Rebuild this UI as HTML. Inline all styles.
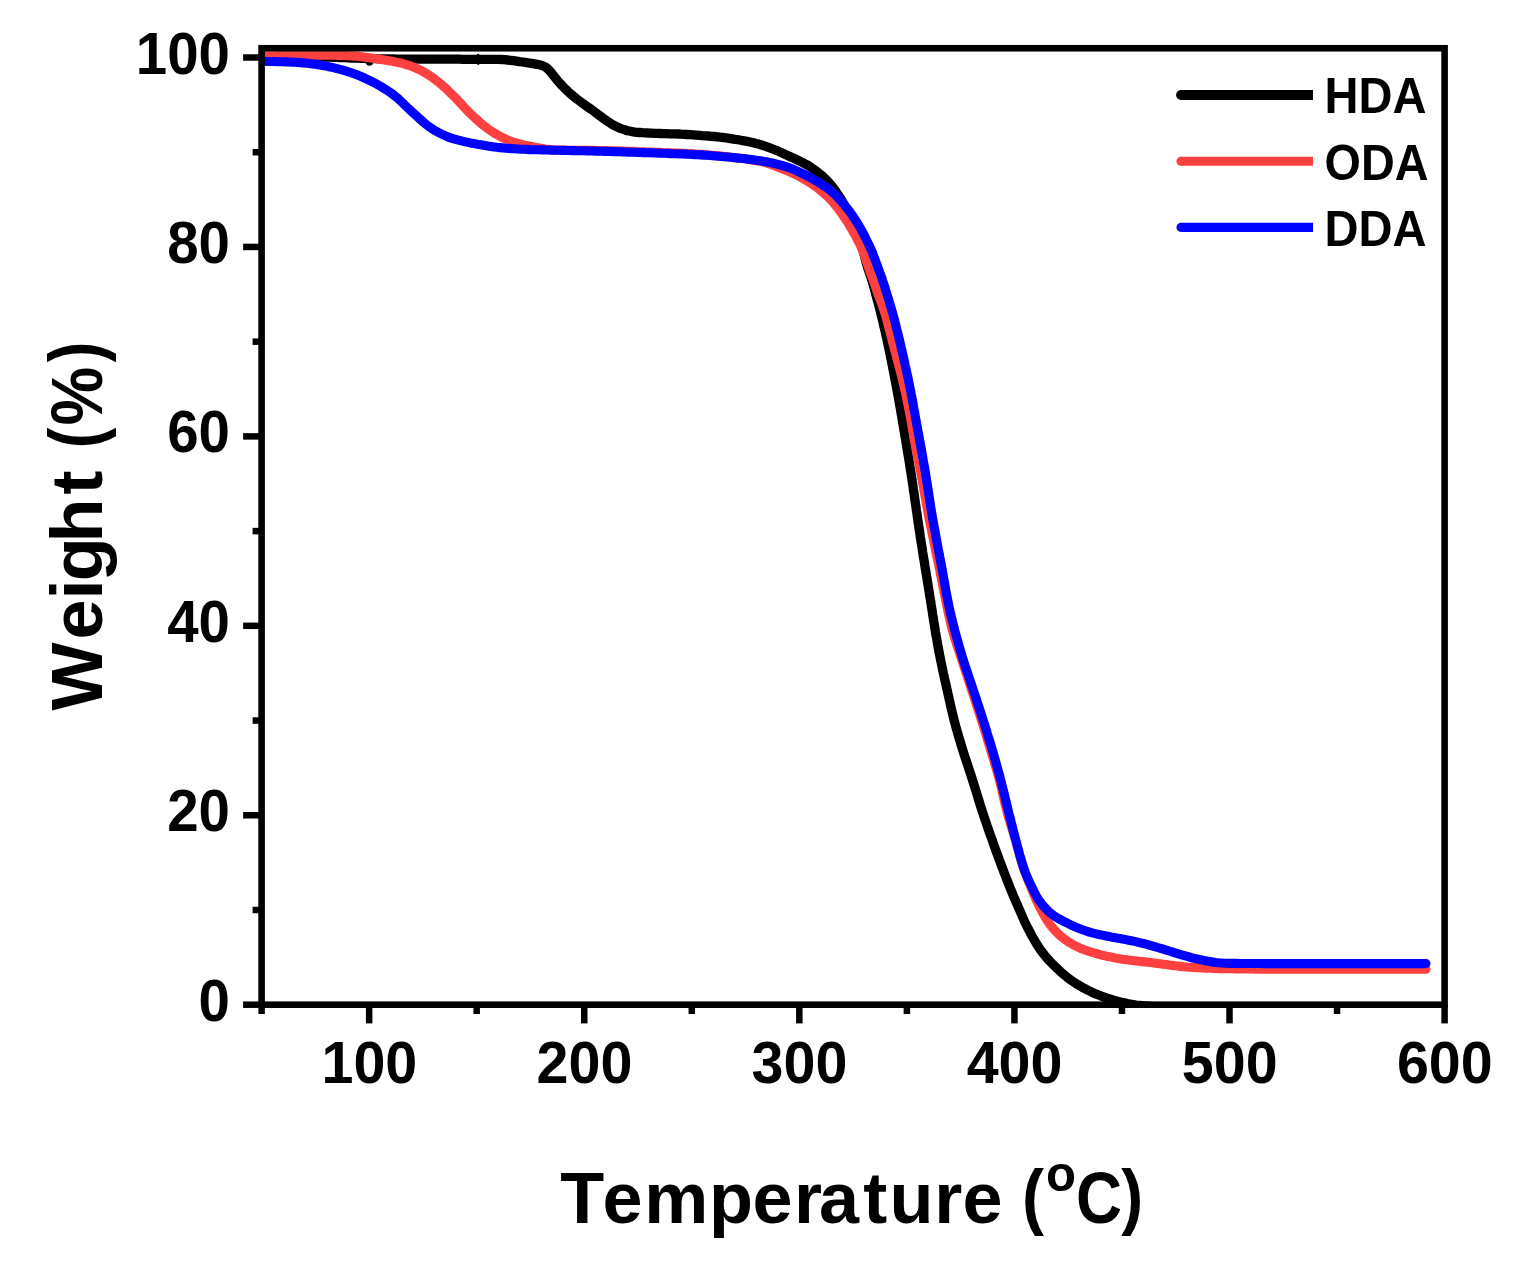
<!DOCTYPE html>
<html><head><meta charset="utf-8"><title>TGA</title>
<style>
html,body{margin:0;padding:0;background:#fff;}
body{width:1525px;height:1271px;overflow:hidden;}
svg{display:block;}
text{font-family:"Liberation Sans",sans-serif;font-weight:bold;fill:#000;}
</style></head><body>
<svg width="1525" height="1271" viewBox="0 0 1525 1271">
<rect width="1525" height="1271" fill="#fff"/>
<defs><clipPath id="c"><rect x="261.6" y="48.2" width="1183.0" height="959.8"/></clipPath></defs>
<g clip-path="url(#c)">
<path d="M261.6 57.0 L265.0 57.0 L267.7 57.0 L270.6 57.0 L273.6 57.0 L276.6 57.0 L279.6 57.0 L282.6 57.0 L285.6 57.0 L288.6 57.0 L291.6 57.0 L294.6 57.0 L297.6 57.1 L300.6 57.1 L303.6 57.1 L306.6 57.1 L309.6 57.1 L312.6 57.1 L315.6 57.1 L318.6 57.1 L321.6 57.2 L324.6 57.2 L327.6 57.2 L330.6 57.2 L333.6 57.3 L336.6 57.3 L339.6 57.5 L342.6 57.6 L345.6 57.7 L348.6 57.8 L351.6 58.0 L354.6 58.1 L357.6 58.2 L360.6 58.3 L363.6 58.4 L366.6 58.5 L369.6 58.6 L372.6 58.6 L375.6 58.7 L378.6 58.8 L381.6 58.8 L384.6 58.9 L387.6 59.0 L390.6 59.0 L393.6 59.0 L396.6 59.1 L399.6 59.1 L402.6 59.1 L405.6 59.1 L408.6 59.1 L411.6 59.1 L414.6 59.1 L417.6 59.2 L420.6 59.2 L423.6 59.2 L426.6 59.2 L429.6 59.2 L432.6 59.2 L435.6 59.2 L438.6 59.2 L441.6 59.2 L444.6 59.2 L447.6 59.2 L450.6 59.2 L453.6 59.2 L456.6 59.2 L459.6 59.2 L462.6 59.3 L465.6 59.3 L468.6 59.3 L471.6 59.3 L474.6 59.3 L477.6 59.3 L480.6 59.3 L483.6 59.3 L486.6 59.3 L489.6 59.3 L492.6 59.3 L495.6 59.4 L498.6 59.4 L501.6 59.5 L504.6 59.7 L507.5 60.0 L510.5 60.3 L513.5 60.7 L516.5 61.1 L519.4 61.6 L522.4 62.0 L525.4 62.4 L528.4 62.9 L531.3 63.3 L534.3 63.8 L537.2 64.3 L540.2 65.0 L543.0 65.9 L545.6 67.2 L547.9 69.0 L550.0 71.1 L551.9 73.5 L553.7 75.8 L555.6 78.2 L557.5 80.5 L559.5 82.8 L561.5 85.0 L563.5 87.2 L565.7 89.3 L567.8 91.4 L570.0 93.4 L572.3 95.3 L574.6 97.3 L577.0 99.1 L579.4 100.9 L581.8 102.7 L584.2 104.4 L586.7 106.2 L589.1 107.9 L591.6 109.6 L594.0 111.4 L596.4 113.2 L598.8 115.0 L601.2 116.8 L603.6 118.6 L606.1 120.3 L608.6 122.0 L611.1 123.7 L613.6 125.2 L616.3 126.6 L619.0 127.8 L621.8 128.9 L624.7 129.8 L627.5 130.7 L630.5 131.3 L633.4 131.9 L636.4 132.3 L639.4 132.5 L642.4 132.7 L645.4 132.8 L648.4 133.0 L651.4 133.1 L654.4 133.3 L657.4 133.4 L660.3 133.5 L663.3 133.6 L666.3 133.7 L669.3 133.8 L672.3 133.8 L675.3 133.9 L678.3 134.0 L681.3 134.2 L684.3 134.3 L687.3 134.5 L690.3 134.7 L693.3 134.9 L696.3 135.1 L699.3 135.3 L702.3 135.6 L705.3 135.8 L708.3 136.0 L711.3 136.3 L714.3 136.5 L717.2 136.8 L720.2 137.2 L723.2 137.5 L726.2 137.9 L729.1 138.3 L732.1 138.8 L735.1 139.3 L738.0 139.7 L741.0 140.3 L744.0 140.8 L746.9 141.4 L749.8 142.0 L752.8 142.6 L755.7 143.4 L758.6 144.1 L761.4 145.0 L764.3 145.9 L767.1 146.9 L769.9 147.9 L772.7 149.0 L775.5 150.1 L778.3 151.2 L781.1 152.4 L783.8 153.7 L786.5 154.9 L789.3 156.2 L792.0 157.4 L794.7 158.7 L797.4 160.0 L800.1 161.4 L802.8 162.7 L805.4 164.1 L808.1 165.5 L810.6 167.1 L813.1 168.8 L815.5 170.5 L817.9 172.4 L820.2 174.3 L822.5 176.2 L824.7 178.3 L826.9 180.4 L828.9 182.5 L830.9 184.8 L832.8 187.1 L834.5 189.5 L836.3 192.0 L838.0 194.5 L839.6 197.0 L841.2 199.5 L842.7 202.1 L844.2 204.7 L845.6 207.4 L847.0 210.1 L848.2 212.8 L849.5 215.5 L850.6 218.3 L851.8 221.0 L852.9 223.8 L854.0 226.6 L855.1 229.4 L856.1 232.2 L857.2 235.0 L858.2 237.9 L859.3 240.7 L860.4 243.5 L861.4 246.3 L862.5 249.1 L863.4 251.9 L864.2 254.8 L864.9 257.7 L865.7 260.6 L866.4 263.5 L867.3 266.4 L868.2 269.3 L869.2 272.1 L870.2 274.9 L871.1 277.8 L872.0 280.6 L872.9 283.5 L873.7 286.4 L874.5 289.3 L875.3 292.2 L876.0 295.1 L876.8 298.0 L877.6 300.9 L878.4 303.8 L879.1 306.7 L879.9 309.6 L880.6 312.5 L881.3 315.4 L882.1 318.3 L882.8 321.2 L883.4 324.2 L884.1 327.1 L884.8 330.0 L885.5 332.9 L886.1 335.8 L886.8 338.8 L887.4 341.7 L888.0 344.6 L888.7 347.6 L889.3 350.5 L889.9 353.5 L890.5 356.4 L891.1 359.3 L891.7 362.3 L892.3 365.2 L892.8 368.2 L893.4 371.1 L894.0 374.1 L894.5 377.0 L895.1 379.9 L895.7 382.9 L896.2 385.8 L896.8 388.8 L897.3 391.7 L897.9 394.7 L898.4 397.6 L898.9 400.6 L899.4 403.5 L900.0 406.5 L900.5 409.5 L901.0 412.4 L901.5 415.4 L902.0 418.3 L902.5 421.3 L903.0 424.2 L903.5 427.2 L904.0 430.2 L904.5 433.1 L905.0 436.1 L905.5 439.0 L906.0 442.0 L906.5 445.0 L907.0 447.9 L907.4 450.9 L907.9 453.8 L908.4 456.8 L908.9 459.8 L909.4 462.7 L909.8 465.7 L910.3 468.7 L910.8 471.6 L911.2 474.6 L911.7 477.5 L912.1 480.5 L912.6 483.5 L913.0 486.4 L913.4 489.4 L913.9 492.4 L914.3 495.4 L914.7 498.3 L915.1 501.3 L915.6 504.3 L916.0 507.2 L916.4 510.2 L916.9 513.2 L917.3 516.1 L917.7 519.1 L918.1 522.1 L918.6 525.0 L919.0 528.0 L919.5 531.0 L919.9 533.9 L920.3 536.9 L920.8 539.9 L921.2 542.8 L921.7 545.8 L922.2 548.8 L922.6 551.7 L923.1 554.7 L923.6 557.7 L924.1 560.6 L924.6 563.6 L925.0 566.5 L925.5 569.5 L926.0 572.5 L926.5 575.4 L927.0 578.4 L927.4 581.4 L927.9 584.3 L928.4 587.3 L928.9 590.2 L929.4 593.2 L929.8 596.2 L930.3 599.1 L930.8 602.1 L931.2 605.0 L931.7 608.0 L932.2 611.0 L932.6 613.9 L933.1 616.9 L933.5 619.9 L934.0 622.8 L934.5 625.8 L935.0 628.8 L935.4 631.7 L935.9 634.7 L936.5 637.6 L937.0 640.6 L937.5 643.5 L938.0 646.5 L938.6 649.4 L939.1 652.4 L939.7 655.3 L940.3 658.3 L940.9 661.2 L941.5 664.2 L942.1 667.1 L942.7 670.0 L943.3 673.0 L944.0 675.9 L944.6 678.8 L945.3 681.8 L946.0 684.7 L946.6 687.6 L947.3 690.5 L947.9 693.5 L948.6 696.4 L949.2 699.3 L949.9 702.3 L950.5 705.2 L951.2 708.1 L951.9 711.0 L952.6 713.9 L953.3 716.9 L954.0 719.8 L954.8 722.7 L955.5 725.6 L956.3 728.5 L957.2 731.3 L958.0 734.2 L958.8 737.1 L959.7 740.0 L960.6 742.9 L961.4 745.7 L962.3 748.6 L963.2 751.5 L964.1 754.3 L965.0 757.2 L966.0 760.0 L966.9 762.9 L967.9 765.7 L968.8 768.6 L969.7 771.4 L970.7 774.3 L971.6 777.1 L972.5 780.0 L973.4 782.8 L974.3 785.7 L975.2 788.6 L976.1 791.4 L977.0 794.3 L977.8 797.2 L978.7 800.0 L979.6 802.9 L980.5 805.8 L981.4 808.6 L982.3 811.5 L983.3 814.3 L984.2 817.2 L985.2 820.0 L986.2 822.9 L987.1 825.7 L988.1 828.5 L989.1 831.4 L990.1 834.2 L991.1 837.0 L992.1 839.8 L993.1 842.7 L994.1 845.5 L995.1 848.3 L996.1 851.2 L997.2 854.0 L998.2 856.8 L999.2 859.6 L1000.3 862.4 L1001.3 865.2 L1002.4 868.0 L1003.4 870.8 L1004.5 873.6 L1005.6 876.4 L1006.7 879.2 L1007.8 882.0 L1008.9 884.8 L1010.0 887.6 L1011.1 890.4 L1012.3 893.2 L1013.4 895.9 L1014.6 898.7 L1015.8 901.4 L1017.0 904.2 L1018.2 906.9 L1019.4 909.7 L1020.6 912.4 L1021.8 915.2 L1023.0 917.9 L1024.2 920.7 L1025.5 923.4 L1026.8 926.1 L1028.2 928.7 L1029.6 931.4 L1031.0 934.1 L1032.4 936.7 L1033.9 939.3 L1035.4 941.9 L1037.0 944.5 L1038.6 947.0 L1040.2 949.5 L1042.0 951.9 L1043.8 954.3 L1045.7 956.6 L1047.7 958.9 L1049.7 961.1 L1051.8 963.3 L1053.9 965.4 L1056.1 967.5 L1058.3 969.5 L1060.5 971.6 L1062.7 973.6 L1065.0 975.5 L1067.3 977.4 L1069.7 979.2 L1072.2 981.0 L1074.6 982.6 L1077.2 984.3 L1079.7 985.8 L1082.3 987.3 L1085.0 988.7 L1087.6 990.1 L1090.3 991.4 L1093.1 992.7 L1095.8 993.9 L1098.6 995.0 L1101.4 996.1 L1104.2 997.1 L1107.0 998.1 L1109.9 999.0 L1112.8 999.9 L1115.6 1000.7 L1118.5 1001.5 L1121.5 1002.2 L1124.4 1002.8 L1127.3 1003.5 L1130.3 1004.1 L1133.2 1004.6 L1136.2 1005.1 L1139.1 1005.4 L1142.1 1005.7 L1145.1 1005.9 L1148.1 1006.2 L1151.1 1006.4 L1154.0 1006.6 L1156.7 1006.8 L1160.0 1007.0 L1160.0 1007.0" fill="none" stroke="#000" stroke-width="9.3" stroke-linecap="round" stroke-linejoin="round"/>
<ellipse cx="369.5" cy="62.4" rx="3.4" ry="3.3" fill="#000"/><ellipse cx="478.2" cy="59.3" rx="2.6" ry="5.6" fill="#000"/>
<path d="M261.6 56.0 L265.4 55.9 L267.9 55.8 L270.7 55.7 L273.6 55.7 L276.6 55.6 L279.6 55.5 L282.6 55.5 L285.6 55.4 L288.6 55.4 L291.6 55.3 L294.6 55.3 L297.6 55.3 L300.6 55.3 L303.6 55.3 L306.6 55.2 L309.6 55.2 L312.6 55.2 L315.6 55.2 L318.6 55.2 L321.6 55.2 L324.6 55.2 L327.6 55.2 L330.6 55.2 L333.6 55.3 L336.6 55.3 L339.6 55.4 L342.6 55.5 L345.6 55.6 L348.6 55.7 L351.6 55.9 L354.6 56.1 L357.6 56.3 L360.5 56.6 L363.5 57.0 L366.5 57.4 L369.5 57.8 L372.4 58.2 L375.4 58.6 L378.4 59.0 L381.4 59.5 L384.3 59.9 L387.3 60.4 L390.2 60.9 L393.2 61.5 L396.1 62.1 L399.1 62.7 L402.0 63.4 L404.9 64.2 L407.8 65.1 L410.6 66.0 L413.4 67.0 L416.2 68.2 L418.9 69.4 L421.6 70.8 L424.2 72.3 L426.8 73.8 L429.3 75.4 L431.8 77.1 L434.2 78.8 L436.6 80.6 L439.0 82.5 L441.3 84.4 L443.5 86.4 L445.8 88.4 L448.0 90.5 L450.1 92.6 L452.3 94.7 L454.4 96.8 L456.5 98.9 L458.5 101.1 L460.6 103.3 L462.6 105.6 L464.7 107.8 L466.7 109.9 L468.8 112.1 L471.0 114.2 L473.1 116.2 L475.3 118.3 L477.6 120.3 L479.8 122.3 L482.1 124.3 L484.5 126.1 L486.8 128.0 L489.3 129.7 L491.7 131.4 L494.3 133.0 L496.8 134.5 L499.5 136.0 L502.1 137.4 L504.8 138.7 L507.6 139.9 L510.4 141.0 L513.2 142.0 L516.0 142.9 L518.9 143.7 L521.8 144.4 L524.8 145.1 L527.7 145.7 L530.7 146.3 L533.6 146.9 L536.6 147.5 L539.5 148.0 L542.5 148.5 L545.5 149.0 L548.4 149.4 L551.4 149.7 L554.4 149.9 L557.4 150.0 L560.4 150.1 L563.4 150.1 L566.3 150.2 L569.3 150.2 L572.3 150.2 L575.3 150.3 L578.3 150.3 L581.4 150.3 L584.4 150.3 L587.4 150.4 L590.4 150.4 L593.4 150.4 L596.4 150.5 L599.4 150.5 L602.4 150.6 L605.4 150.6 L608.4 150.7 L611.4 150.8 L614.4 150.9 L617.4 150.9 L620.4 151.0 L623.4 151.1 L626.4 151.2 L629.4 151.3 L632.4 151.4 L635.4 151.5 L638.4 151.7 L641.4 151.8 L644.4 151.9 L647.4 152.0 L650.4 152.1 L653.3 152.2 L656.3 152.3 L659.3 152.4 L662.3 152.6 L665.3 152.7 L668.3 152.8 L671.3 152.9 L674.3 153.0 L677.3 153.1 L680.3 153.3 L683.3 153.4 L686.3 153.5 L689.3 153.7 L692.3 153.8 L695.3 154.0 L698.3 154.2 L701.3 154.4 L704.3 154.6 L707.3 154.8 L710.3 155.1 L713.3 155.3 L716.3 155.6 L719.2 155.9 L722.2 156.2 L725.2 156.5 L728.2 156.8 L731.2 157.2 L734.2 157.5 L737.1 157.9 L740.1 158.2 L743.1 158.6 L746.1 159.0 L749.1 159.4 L752.0 159.9 L755.0 160.4 L757.9 160.9 L760.9 161.5 L763.8 162.2 L766.6 163.0 L769.5 164.0 L772.3 165.0 L775.1 166.0 L777.9 167.1 L780.7 168.2 L783.5 169.3 L786.3 170.4 L789.1 171.6 L791.8 172.8 L794.5 174.1 L797.2 175.4 L799.9 176.8 L802.5 178.2 L805.1 179.7 L807.7 181.3 L810.2 182.9 L812.7 184.5 L815.1 186.3 L817.6 188.0 L819.9 189.9 L822.2 191.8 L824.5 193.7 L826.8 195.7 L828.9 197.8 L831.0 200.0 L833.0 202.2 L834.9 204.5 L836.8 206.8 L838.6 209.2 L840.4 211.7 L842.1 214.1 L843.8 216.5 L845.5 219.0 L847.1 221.6 L848.7 224.1 L850.2 226.7 L851.7 229.3 L853.2 231.9 L854.7 234.5 L856.1 237.2 L857.5 239.8 L858.9 242.5 L860.3 245.1 L861.5 247.9 L862.7 250.6 L863.8 253.4 L864.7 256.2 L865.7 259.1 L866.6 261.9 L867.6 264.8 L868.6 267.6 L869.6 270.4 L870.6 273.2 L871.7 276.1 L872.7 278.9 L873.8 281.7 L874.8 284.5 L875.7 287.3 L876.7 290.2 L877.7 293.0 L878.8 295.8 L879.8 298.6 L880.9 301.5 L881.9 304.3 L882.9 307.1 L883.9 309.9 L884.8 312.8 L885.6 315.6 L886.5 318.5 L887.3 321.4 L888.0 324.3 L888.8 327.2 L889.5 330.1 L890.3 333.0 L891.0 336.0 L891.8 338.9 L892.5 341.8 L893.3 344.7 L894.1 347.6 L894.8 350.5 L895.6 353.4 L896.4 356.3 L897.2 359.2 L897.9 362.1 L898.7 365.0 L899.5 367.9 L900.2 370.8 L901.0 373.7 L901.7 376.6 L902.4 379.5 L903.1 382.4 L903.8 385.3 L904.5 388.3 L905.1 391.2 L905.8 394.1 L906.4 397.0 L907.0 400.0 L907.6 402.9 L908.2 405.9 L908.8 408.8 L909.3 411.8 L909.9 414.7 L910.5 417.7 L911.0 420.6 L911.5 423.6 L912.1 426.5 L912.6 429.5 L913.1 432.4 L913.6 435.4 L914.1 438.3 L914.6 441.3 L915.2 444.2 L915.7 447.2 L916.2 450.1 L916.8 453.1 L917.4 456.0 L918.0 459.0 L918.6 461.9 L919.2 464.9 L919.8 467.8 L920.4 470.7 L921.0 473.7 L921.5 476.6 L922.1 479.6 L922.6 482.5 L923.2 485.5 L923.7 488.4 L924.2 491.4 L924.7 494.3 L925.2 497.3 L925.8 500.2 L926.3 503.2 L926.8 506.1 L927.4 509.1 L927.9 512.0 L928.5 515.0 L929.0 517.9 L929.6 520.9 L930.2 523.8 L930.8 526.8 L931.4 529.7 L932.0 532.6 L932.6 535.6 L933.2 538.5 L933.8 541.5 L934.4 544.4 L935.0 547.3 L935.6 550.3 L936.2 553.2 L936.8 556.2 L937.5 559.1 L938.1 562.0 L938.7 565.0 L939.3 567.9 L939.9 570.8 L940.4 573.8 L941.0 576.7 L941.6 579.7 L942.2 582.6 L942.7 585.6 L943.3 588.5 L943.9 591.5 L944.5 594.4 L945.1 597.3 L945.7 600.3 L946.3 603.2 L946.9 606.2 L947.5 609.1 L948.1 612.0 L948.8 615.0 L949.4 617.9 L950.1 620.8 L950.8 623.7 L951.5 626.6 L952.2 629.5 L953.0 632.4 L953.9 635.3 L954.7 638.2 L955.6 641.0 L956.5 643.9 L957.5 646.8 L958.4 649.6 L959.4 652.4 L960.3 655.3 L961.3 658.1 L962.2 661.0 L963.1 663.8 L964.1 666.7 L965.0 669.6 L965.9 672.4 L966.9 675.3 L967.8 678.1 L968.7 681.0 L969.7 683.8 L970.6 686.7 L971.5 689.5 L972.5 692.4 L973.4 695.2 L974.3 698.1 L975.3 700.9 L976.2 703.8 L977.1 706.6 L978.0 709.5 L979.0 712.3 L979.9 715.2 L980.8 718.1 L981.7 720.9 L982.6 723.8 L983.5 726.6 L984.4 729.5 L985.2 732.4 L986.1 735.2 L987.0 738.1 L987.9 741.0 L988.7 743.9 L989.6 746.7 L990.5 749.6 L991.4 752.5 L992.2 755.3 L993.1 758.2 L994.0 761.1 L994.8 764.0 L995.7 766.8 L996.5 769.7 L997.4 772.6 L998.2 775.5 L999.0 778.4 L999.7 781.3 L1000.5 784.2 L1001.2 787.1 L1001.9 790.0 L1002.5 792.9 L1003.2 795.9 L1003.9 798.8 L1004.5 801.7 L1005.2 804.6 L1006.0 807.5 L1006.7 810.4 L1007.5 813.3 L1008.3 816.2 L1009.1 819.1 L1010.0 822.0 L1010.9 824.9 L1011.7 827.7 L1012.6 830.6 L1013.5 833.5 L1014.3 836.3 L1015.2 839.2 L1016.0 842.1 L1016.8 845.0 L1017.6 847.9 L1018.4 850.8 L1019.2 853.7 L1020.0 856.6 L1020.8 859.5 L1021.6 862.4 L1022.5 865.2 L1023.4 868.1 L1024.4 870.9 L1025.5 873.7 L1026.6 876.5 L1027.7 879.3 L1028.8 882.0 L1030.0 884.8 L1031.1 887.6 L1032.3 890.4 L1033.4 893.2 L1034.5 895.9 L1035.7 898.7 L1036.9 901.4 L1038.2 904.1 L1039.5 906.8 L1040.9 909.5 L1042.3 912.2 L1043.8 914.8 L1045.3 917.4 L1046.9 920.0 L1048.6 922.5 L1050.3 924.9 L1052.1 927.3 L1054.0 929.5 L1056.1 931.7 L1058.2 933.8 L1060.4 935.9 L1062.8 937.8 L1065.1 939.6 L1067.6 941.3 L1070.1 942.9 L1072.7 944.4 L1075.3 945.8 L1078.1 947.1 L1080.8 948.4 L1083.6 949.5 L1086.4 950.5 L1089.2 951.5 L1092.1 952.4 L1095.0 953.2 L1097.9 954.0 L1100.8 954.8 L1103.7 955.5 L1106.6 956.2 L1109.6 956.8 L1112.5 957.4 L1115.5 958.0 L1118.4 958.5 L1121.4 959.0 L1124.3 959.4 L1127.3 959.8 L1130.3 960.2 L1133.3 960.6 L1136.2 960.9 L1139.2 961.3 L1142.2 961.6 L1145.2 961.9 L1148.2 962.2 L1151.1 962.6 L1154.1 963.0 L1157.1 963.4 L1160.1 963.8 L1163.0 964.2 L1166.0 964.6 L1169.0 965.0 L1172.0 965.4 L1174.9 965.7 L1177.9 966.1 L1180.9 966.4 L1183.9 966.7 L1186.9 967.0 L1189.9 967.2 L1192.9 967.4 L1195.8 967.6 L1198.8 967.8 L1201.8 968.0 L1204.8 968.1 L1207.8 968.2 L1210.8 968.3 L1213.8 968.4 L1216.8 968.5 L1219.8 968.6 L1222.8 968.7 L1225.8 968.7 L1228.8 968.8 L1231.8 968.8 L1234.8 968.9 L1237.8 968.9 L1240.8 968.9 L1243.8 969.0 L1246.8 969.0 L1249.8 969.0 L1252.8 969.0 L1255.8 969.1 L1258.8 969.1 L1261.8 969.1 L1264.8 969.2 L1267.8 969.2 L1270.8 969.2 L1273.8 969.2 L1276.8 969.2 L1279.8 969.2 L1282.8 969.3 L1285.8 969.3 L1288.8 969.3 L1291.8 969.3 L1294.8 969.3 L1297.8 969.3 L1300.8 969.3 L1303.8 969.3 L1306.8 969.3 L1309.8 969.3 L1312.8 969.3 L1315.8 969.3 L1318.8 969.3 L1321.8 969.3 L1324.8 969.3 L1327.8 969.3 L1330.8 969.3 L1333.8 969.3 L1336.8 969.3 L1339.8 969.3 L1342.8 969.3 L1345.8 969.3 L1348.8 969.3 L1351.8 969.3 L1354.8 969.3 L1357.8 969.3 L1360.8 969.3 L1363.8 969.3 L1366.8 969.3 L1369.8 969.3 L1372.8 969.3 L1375.8 969.3 L1378.8 969.3 L1381.8 969.3 L1384.8 969.3 L1387.8 969.3 L1390.8 969.3 L1393.8 969.3 L1396.8 969.3 L1399.8 969.3 L1402.8 969.3 L1405.8 969.3 L1408.8 969.3 L1411.8 969.3 L1414.8 969.3 L1417.7 969.3 L1420.4 969.3 L1422.7 969.3 L1426.0 969.3 L1426.0 969.3" fill="none" stroke="#ff4040" stroke-width="9.1" stroke-linecap="round" stroke-linejoin="round"/>
<path d="M261.6 61.4 L265.4 61.4 L267.9 61.5 L270.7 61.5 L273.6 61.5 L276.6 61.6 L279.6 61.7 L282.6 61.8 L285.6 61.9 L288.6 62.0 L291.6 62.1 L294.6 62.3 L297.6 62.4 L300.6 62.6 L303.6 62.9 L306.6 63.2 L309.5 63.5 L312.5 63.9 L315.5 64.3 L318.4 64.7 L321.4 65.2 L324.4 65.8 L327.3 66.3 L330.2 67.0 L333.2 67.6 L336.1 68.3 L339.0 69.1 L341.9 69.8 L344.8 70.7 L347.6 71.6 L350.5 72.5 L353.3 73.5 L356.1 74.5 L358.9 75.6 L361.7 76.8 L364.4 78.0 L367.2 79.3 L369.9 80.6 L372.5 81.9 L375.2 83.3 L377.8 84.8 L380.5 86.2 L383.0 87.8 L385.6 89.4 L388.1 91.0 L390.6 92.7 L393.0 94.5 L395.3 96.3 L397.6 98.2 L399.8 100.2 L402.0 102.3 L404.2 104.4 L406.3 106.5 L408.5 108.5 L410.7 110.6 L412.9 112.7 L415.1 114.7 L417.4 116.7 L419.6 118.8 L421.9 120.8 L424.1 122.8 L426.5 124.7 L428.8 126.5 L431.3 128.2 L433.8 129.8 L436.3 131.3 L439.0 132.7 L441.6 134.1 L444.4 135.4 L447.1 136.6 L449.9 137.6 L452.8 138.6 L455.6 139.4 L458.5 140.2 L461.4 140.9 L464.4 141.6 L467.3 142.2 L470.2 142.9 L473.2 143.4 L476.1 144.0 L479.1 144.6 L482.0 145.1 L485.0 145.6 L488.0 146.1 L490.9 146.5 L493.9 146.9 L496.9 147.3 L499.9 147.6 L502.9 147.9 L505.8 148.2 L508.8 148.4 L511.8 148.6 L514.8 148.8 L517.8 149.0 L520.8 149.2 L523.8 149.3 L526.8 149.4 L529.8 149.6 L532.8 149.7 L535.8 149.7 L538.8 149.8 L541.8 149.9 L544.8 150.0 L547.8 150.0 L550.8 150.1 L553.8 150.2 L556.8 150.2 L559.8 150.3 L562.8 150.4 L565.8 150.4 L568.8 150.5 L571.8 150.6 L574.8 150.6 L577.8 150.7 L580.8 150.8 L583.8 150.8 L586.8 150.9 L589.8 151.0 L592.8 151.0 L595.8 151.1 L598.8 151.2 L601.8 151.3 L604.8 151.4 L607.8 151.4 L610.8 151.5 L613.8 151.6 L616.8 151.7 L619.8 151.8 L622.8 151.9 L625.8 152.0 L628.8 152.1 L631.8 152.2 L634.8 152.3 L637.8 152.4 L640.8 152.5 L643.8 152.6 L646.8 152.7 L649.8 152.8 L652.8 152.9 L655.7 153.0 L658.7 153.1 L661.7 153.2 L664.7 153.3 L667.7 153.4 L670.7 153.6 L673.7 153.7 L676.7 153.8 L679.7 153.9 L682.7 154.0 L685.7 154.1 L688.7 154.3 L691.7 154.4 L694.7 154.6 L697.7 154.7 L700.7 154.9 L703.7 155.1 L706.7 155.3 L709.7 155.5 L712.7 155.7 L715.7 156.0 L718.7 156.2 L721.7 156.5 L724.6 156.7 L727.6 157.0 L730.6 157.3 L733.6 157.6 L736.6 157.9 L739.6 158.2 L742.6 158.5 L745.5 158.8 L748.5 159.2 L751.5 159.6 L754.5 160.0 L757.4 160.4 L760.4 160.8 L763.4 161.3 L766.3 161.8 L769.3 162.4 L772.2 163.0 L775.1 163.7 L778.0 164.4 L780.9 165.2 L783.8 166.0 L786.7 166.9 L789.5 167.9 L792.3 168.9 L795.1 170.1 L797.8 171.3 L800.5 172.6 L803.2 173.9 L805.9 175.2 L808.6 176.6 L811.2 178.1 L813.8 179.5 L816.4 181.1 L819.0 182.6 L821.5 184.2 L824.0 185.9 L826.5 187.6 L828.9 189.3 L831.2 191.2 L833.5 193.2 L835.7 195.2 L837.7 197.4 L839.8 199.6 L841.8 201.8 L843.7 204.1 L845.6 206.4 L847.5 208.8 L849.3 211.1 L851.1 213.6 L852.8 216.0 L854.4 218.5 L856.1 221.1 L857.7 223.6 L859.2 226.2 L860.7 228.8 L862.2 231.4 L863.6 234.0 L865.0 236.7 L866.3 239.4 L867.6 242.1 L868.9 244.8 L870.2 247.5 L871.4 250.2 L872.6 253.0 L873.6 255.8 L874.7 258.6 L875.7 261.4 L876.8 264.2 L877.8 267.1 L878.8 269.9 L879.9 272.7 L880.9 275.5 L881.9 278.3 L882.8 281.2 L883.8 284.0 L884.7 286.9 L885.6 289.8 L886.5 292.6 L887.4 295.5 L888.2 298.4 L889.1 301.2 L890.0 304.1 L890.8 307.0 L891.7 309.9 L892.5 312.7 L893.3 315.6 L894.1 318.5 L894.8 321.4 L895.6 324.3 L896.3 327.2 L897.0 330.2 L897.8 333.1 L898.5 336.0 L899.2 338.9 L899.9 341.8 L900.6 344.7 L901.2 347.7 L901.9 350.6 L902.6 353.5 L903.3 356.4 L903.9 359.4 L904.6 362.3 L905.2 365.2 L905.9 368.1 L906.5 371.1 L907.1 374.0 L907.8 376.9 L908.4 379.9 L909.0 382.8 L909.6 385.8 L910.2 388.7 L910.8 391.6 L911.3 394.6 L911.9 397.5 L912.4 400.5 L913.0 403.4 L913.5 406.4 L914.0 409.3 L914.6 412.3 L915.1 415.2 L915.6 418.2 L916.2 421.1 L916.7 424.1 L917.3 427.0 L917.8 430.0 L918.3 432.9 L918.9 435.9 L919.4 438.9 L920.0 441.8 L920.5 444.8 L921.0 447.7 L921.6 450.7 L922.1 453.6 L922.6 456.6 L923.1 459.5 L923.6 462.5 L924.2 465.4 L924.7 468.4 L925.2 471.3 L925.7 474.3 L926.1 477.3 L926.6 480.2 L927.1 483.2 L927.6 486.2 L928.0 489.1 L928.5 492.1 L928.9 495.1 L929.3 498.0 L929.8 501.0 L930.3 504.0 L930.7 506.9 L931.2 509.9 L931.7 512.8 L932.2 515.8 L932.7 518.7 L933.2 521.7 L933.8 524.7 L934.3 527.6 L934.9 530.6 L935.4 533.5 L935.9 536.5 L936.5 539.4 L937.0 542.4 L937.6 545.3 L938.1 548.3 L938.7 551.2 L939.3 554.1 L939.8 557.1 L940.4 560.0 L940.9 563.0 L941.5 565.9 L942.0 568.9 L942.6 571.8 L943.1 574.8 L943.6 577.8 L944.1 580.7 L944.7 583.7 L945.2 586.6 L945.7 589.6 L946.2 592.5 L946.8 595.5 L947.4 598.4 L948.0 601.4 L948.6 604.3 L949.2 607.2 L949.9 610.2 L950.5 613.1 L951.2 616.0 L951.9 618.9 L952.6 621.8 L953.3 624.7 L954.1 627.7 L954.8 630.6 L955.6 633.5 L956.4 636.4 L957.2 639.2 L958.0 642.1 L958.8 645.0 L959.6 647.9 L960.5 650.8 L961.4 653.6 L962.2 656.5 L963.1 659.4 L964.0 662.2 L964.9 665.1 L965.9 668.0 L966.8 670.8 L967.8 673.6 L968.7 676.5 L969.7 679.3 L970.7 682.2 L971.6 685.0 L972.6 687.9 L973.5 690.7 L974.5 693.5 L975.4 696.4 L976.4 699.2 L977.3 702.1 L978.2 704.9 L979.2 707.8 L980.1 710.7 L981.0 713.5 L981.9 716.4 L982.8 719.2 L983.8 722.1 L984.7 724.9 L985.6 727.8 L986.5 730.7 L987.3 733.5 L988.2 736.4 L989.1 739.3 L990.0 742.1 L990.9 745.0 L991.7 747.9 L992.6 750.8 L993.4 753.6 L994.2 756.5 L995.1 759.4 L995.9 762.3 L996.7 765.2 L997.5 768.1 L998.3 771.0 L999.1 773.8 L999.9 776.7 L1000.6 779.6 L1001.4 782.6 L1002.1 785.5 L1002.8 788.4 L1003.6 791.3 L1004.3 794.2 L1005.0 797.1 L1005.7 800.0 L1006.4 802.9 L1007.1 805.9 L1007.8 808.8 L1008.5 811.7 L1009.2 814.6 L1010.0 817.5 L1010.7 820.4 L1011.4 823.3 L1012.2 826.2 L1012.9 829.1 L1013.7 832.1 L1014.4 835.0 L1015.2 837.9 L1016.0 840.8 L1016.7 843.7 L1017.5 846.6 L1018.3 849.5 L1019.1 852.4 L1019.8 855.3 L1020.7 858.2 L1021.5 861.0 L1022.4 863.9 L1023.3 866.7 L1024.3 869.6 L1025.3 872.4 L1026.5 875.2 L1027.6 877.9 L1028.8 880.7 L1030.1 883.4 L1031.4 886.1 L1032.7 888.8 L1034.0 891.5 L1035.4 894.2 L1036.8 896.8 L1038.4 899.4 L1040.1 901.8 L1041.9 904.2 L1043.8 906.5 L1045.9 908.7 L1048.0 910.8 L1050.2 912.8 L1052.5 914.7 L1054.9 916.4 L1057.4 918.0 L1060.1 919.4 L1062.7 920.8 L1065.4 922.1 L1068.1 923.5 L1070.8 924.8 L1073.6 926.1 L1076.3 927.3 L1079.1 928.5 L1081.8 929.5 L1084.7 930.5 L1087.5 931.5 L1090.4 932.3 L1093.3 933.1 L1096.2 933.8 L1099.1 934.5 L1102.1 935.1 L1105.0 935.7 L1107.9 936.3 L1110.9 936.9 L1113.8 937.4 L1116.8 938.0 L1119.7 938.5 L1122.7 939.0 L1125.6 939.6 L1128.6 940.2 L1131.5 940.8 L1134.5 941.4 L1137.4 942.1 L1140.3 942.8 L1143.2 943.5 L1146.1 944.2 L1149.0 945.0 L1151.9 945.8 L1154.8 946.6 L1157.7 947.5 L1160.5 948.3 L1163.4 949.2 L1166.3 950.1 L1169.1 951.0 L1172.0 951.9 L1174.9 952.8 L1177.7 953.7 L1180.6 954.6 L1183.5 955.4 L1186.4 956.2 L1189.3 957.0 L1192.2 957.8 L1195.1 958.5 L1198.0 959.1 L1200.9 959.8 L1203.9 960.4 L1206.8 961.0 L1209.8 961.5 L1212.7 962.0 L1215.7 962.5 L1218.7 962.8 L1221.6 963.0 L1224.6 963.2 L1227.6 963.3 L1230.6 963.4 L1233.6 963.4 L1236.6 963.4 L1239.6 963.5 L1242.6 963.5 L1245.6 963.5 L1248.6 963.5 L1251.6 963.5 L1254.6 963.5 L1257.6 963.5 L1260.6 963.5 L1263.6 963.6 L1266.6 963.6 L1269.6 963.6 L1272.6 963.6 L1275.6 963.6 L1278.6 963.6 L1281.6 963.6 L1284.6 963.6 L1287.6 963.6 L1290.6 963.6 L1293.6 963.6 L1296.6 963.6 L1299.6 963.6 L1302.6 963.6 L1305.6 963.6 L1308.6 963.6 L1311.6 963.6 L1314.6 963.6 L1317.6 963.6 L1320.6 963.6 L1323.6 963.6 L1326.6 963.6 L1329.6 963.6 L1332.6 963.6 L1335.6 963.6 L1338.6 963.6 L1341.6 963.6 L1344.6 963.6 L1347.6 963.6 L1350.6 963.6 L1353.6 963.6 L1356.6 963.6 L1359.6 963.6 L1362.6 963.6 L1365.6 963.6 L1368.6 963.6 L1371.6 963.6 L1374.6 963.6 L1377.6 963.6 L1380.6 963.6 L1383.6 963.6 L1386.6 963.6 L1389.6 963.6 L1392.6 963.6 L1395.6 963.6 L1398.6 963.6 L1401.6 963.6 L1404.6 963.6 L1407.6 963.6 L1410.6 963.6 L1413.6 963.6 L1416.6 963.6 L1419.4 963.6 L1421.9 963.6 L1423.8 963.6 L1426.0 963.6" fill="none" stroke="#0000ff" stroke-width="9.1" stroke-linecap="round" stroke-linejoin="round"/>
</g>
<g>
<rect x="261.60" y="48.25" width="1183.00" height="956.45" fill="none" stroke="#000" stroke-width="6.6"/>
<line x1="243.1" x2="261.6" y1="1004.70" y2="1004.70" stroke="#000" stroke-width="6.5"/>
<line x1="252.6" x2="261.6" y1="909.98" y2="909.98" stroke="#000" stroke-width="6.5"/>
<line x1="243.1" x2="261.6" y1="815.26" y2="815.26" stroke="#000" stroke-width="6.5"/>
<line x1="252.6" x2="261.6" y1="720.54" y2="720.54" stroke="#000" stroke-width="6.5"/>
<line x1="243.1" x2="261.6" y1="625.82" y2="625.82" stroke="#000" stroke-width="6.5"/>
<line x1="252.6" x2="261.6" y1="531.10" y2="531.10" stroke="#000" stroke-width="6.5"/>
<line x1="243.1" x2="261.6" y1="436.38" y2="436.38" stroke="#000" stroke-width="6.5"/>
<line x1="252.6" x2="261.6" y1="341.66" y2="341.66" stroke="#000" stroke-width="6.5"/>
<line x1="243.1" x2="261.6" y1="246.94" y2="246.94" stroke="#000" stroke-width="6.5"/>
<line x1="252.6" x2="261.6" y1="152.22" y2="152.22" stroke="#000" stroke-width="6.5"/>
<line x1="243.1" x2="261.6" y1="57.50" y2="57.50" stroke="#000" stroke-width="6.5"/>
<line y1="1004.7" y2="1014" x1="261.60" x2="261.60" stroke="#000" stroke-width="6.5"/>
<line y1="1004.7" y2="1023.4" x1="369.15" x2="369.15" stroke="#000" stroke-width="6.5"/>
<line y1="1004.7" y2="1014" x1="476.69" x2="476.69" stroke="#000" stroke-width="6.5"/>
<line y1="1004.7" y2="1023.4" x1="584.24" x2="584.24" stroke="#000" stroke-width="6.5"/>
<line y1="1004.7" y2="1014" x1="691.78" x2="691.78" stroke="#000" stroke-width="6.5"/>
<line y1="1004.7" y2="1023.4" x1="799.33" x2="799.33" stroke="#000" stroke-width="6.5"/>
<line y1="1004.7" y2="1014" x1="906.87" x2="906.87" stroke="#000" stroke-width="6.5"/>
<line y1="1004.7" y2="1023.4" x1="1014.42" x2="1014.42" stroke="#000" stroke-width="6.5"/>
<line y1="1004.7" y2="1014" x1="1121.96" x2="1121.96" stroke="#000" stroke-width="6.5"/>
<line y1="1004.7" y2="1023.4" x1="1229.51" x2="1229.51" stroke="#000" stroke-width="6.5"/>
<line y1="1004.7" y2="1014" x1="1337.05" x2="1337.05" stroke="#000" stroke-width="6.5"/>
<line y1="1004.7" y2="1023.4" x1="1444.60" x2="1444.60" stroke="#000" stroke-width="6.5"/>
<text x="198.6" y="1020.7" font-size="58.5" textLength="31.4" lengthAdjust="spacingAndGlyphs">0</text>
<text x="167.2" y="831.3" font-size="58.5" textLength="62.8" lengthAdjust="spacingAndGlyphs">20</text>
<text x="167.2" y="641.8" font-size="58.5" textLength="62.8" lengthAdjust="spacingAndGlyphs">40</text>
<text x="167.2" y="452.4" font-size="58.5" textLength="62.8" lengthAdjust="spacingAndGlyphs">60</text>
<text x="167.2" y="262.9" font-size="58.5" textLength="62.8" lengthAdjust="spacingAndGlyphs">80</text>
<text x="135.8" y="73.5" font-size="58.5" textLength="94.2" lengthAdjust="spacingAndGlyphs">100</text>
<text x="321.5" y="1083.4" font-size="59.5" textLength="95.8" lengthAdjust="spacingAndGlyphs">100</text>
<text x="536.6" y="1083.4" font-size="59.5" textLength="95.8" lengthAdjust="spacingAndGlyphs">200</text>
<text x="751.6" y="1083.4" font-size="59.5" textLength="95.8" lengthAdjust="spacingAndGlyphs">300</text>
<text x="966.7" y="1083.4" font-size="59.5" textLength="95.8" lengthAdjust="spacingAndGlyphs">400</text>
<text x="1181.8" y="1083.4" font-size="59.5" textLength="95.8" lengthAdjust="spacingAndGlyphs">500</text>
<text x="1396.9" y="1083.4" font-size="59.5" textLength="95.8" lengthAdjust="spacingAndGlyphs">600</text>
</g>
<g>
<line x1="1181" x2="1313" y1="95.0" y2="95.0" stroke="#000" stroke-width="9.9"/>
<circle cx="1181" cy="95.0" r="4.95" fill="#000"/>
<text x="1324.5" y="113.3" font-size="50" textLength="102.0" lengthAdjust="spacingAndGlyphs">HDA</text>
<line x1="1181" x2="1313" y1="161.3" y2="161.3" stroke="#ff4040" stroke-width="9.1"/>
<circle cx="1181" cy="161.3" r="4.55" fill="#ff4040"/>
<text x="1324.5" y="179.8" font-size="50" textLength="104.0" lengthAdjust="spacingAndGlyphs">ODA</text>
<line x1="1181" x2="1313" y1="227.4" y2="227.4" stroke="#0000ff" stroke-width="9.1"/>
<circle cx="1181" cy="227.4" r="4.55" fill="#0000ff"/>
<text x="1324.5" y="245.5" font-size="50" textLength="102.0" lengthAdjust="spacingAndGlyphs">DDA</text>
</g>
<g id="xlabel" font-size="72">
<text x="560.3 602.4 644.2 709 752.4 794.1 819.1 863.3 889.6 934.3 962.4" y="1223.3">Temperature</text>
<text x="1022" y="1220.8" textLength="22" lengthAdjust="spacingAndGlyphs">(</text>
<text x="1046" y="1191" font-size="50" textLength="30" lengthAdjust="spacingAndGlyphs">o</text>
<text x="1076" y="1223.3" textLength="46" lengthAdjust="spacingAndGlyphs">C</text>
<text x="1121.3" y="1220.8" textLength="22" lengthAdjust="spacingAndGlyphs">)</text>
</g>
<g id="ylabel" font-size="72" transform="translate(102.4 0) rotate(-90)">
<text x="-710.4 -639.6 -599.4 -581.3 -542.4 -494.5" y="0">Weight</text>
<text x="-448.3" y="-1.4" font-size="74.7" textLength="20.5" lengthAdjust="spacingAndGlyphs">(</text>
<text x="-425.5" y="0" textLength="58.8" lengthAdjust="spacingAndGlyphs">%</text>
<text x="-362.2" y="-1.4" font-size="74.7" textLength="20.5" lengthAdjust="spacingAndGlyphs">)</text>
</g>
</svg>
</body></html>
